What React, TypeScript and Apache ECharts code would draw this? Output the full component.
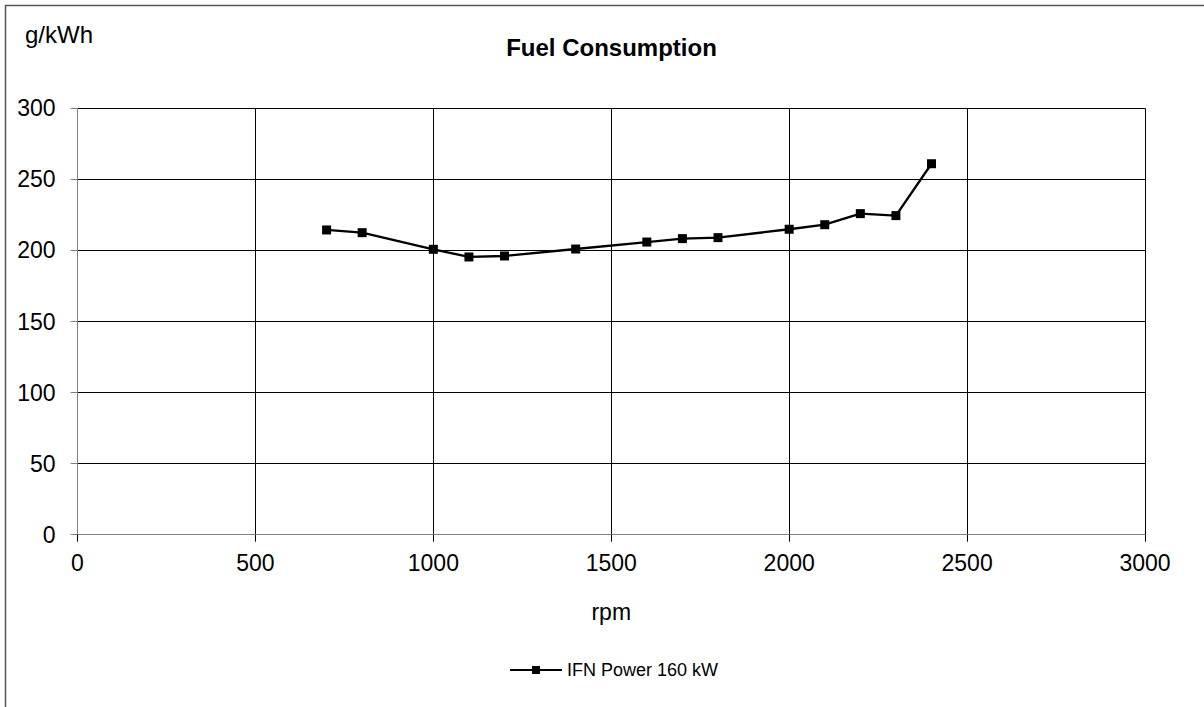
import React, { useEffect, useRef } from "react";
import * as echarts from "echarts";

const rpm = [700, 800, 1000, 1100, 1200, 1400, 1600, 1700, 1800, 2000, 2100, 2200, 2300, 2400];
const consumption = [214.4, 212.5, 200.8, 195.4, 196.1, 201, 205.9, 208.3, 209, 214.9, 218.1, 225.9, 224.5, 261];
const seriesName = "IFN Power 160 kW";
const titleText = "Fuel Consumption";
const yUnit = "g/kWh";
const xName = "rpm";

export default function App() {
  const ref = useRef<HTMLDivElement>(null);
  useEffect(() => {
    document.body.style.margin = "0";
    const chart = echarts.init(ref.current!, null, { renderer: "svg" });
    const font = "Arial, 'Liberation Sans', sans-serif";
    chart.setOption({
      animation: false,
      backgroundColor: "#ffffff",
      textStyle: { fontFamily: font },
      grid: { left: 77.5, right: 59, top: 108.3, bottom: 172.3, containLabel: false },
      xAxis: {
        type: "value",
        min: 0,
        max: 3000,
        interval: 500,
        name: xName,
        nameLocation: "middle",
        nameGap: 66,
        nameTextStyle: { fontSize: 23, color: "#000", fontFamily: font },
        axisLine: { show: true, lineStyle: { color: "#808080", width: 1 } },
        axisTick: { show: true, length: 7, lineStyle: { color: "#000" } },
        axisLabel: {
          fontSize: 23,
          color: "#000",
          margin: 17,
          fontFamily: font,
          formatter: (v: number) => String(v),
        },
        splitLine: { show: true, lineStyle: { color: "#000", width: 1 } },
      },
      yAxis: {
        type: "value",
        min: 0,
        max: 300,
        interval: 50,
        axisLine: { show: true, lineStyle: { color: "#808080", width: 1 } },
        axisTick: { show: true, length: 7, lineStyle: { color: "#808080" } },
        axisLabel: { fontSize: 23, color: "#000", margin: 22, fontFamily: font },
        splitLine: { show: true, lineStyle: { color: "#000", width: 1 } },
      },
      legend: {
        top: 656,
        left: 504,
        itemWidth: 52,
        itemHeight: 10,
        textStyle: { fontSize: 18, color: "#000", fontFamily: font },
        data: [seriesName],
      },
      graphic: [
        {
          type: "rect",
          shape: { x: 5.5, y: 5.5, width: 1400, height: 900 },
          style: { fill: "none", stroke: "#555", lineWidth: 1.5 },
          silent: true,
        },
        {
          type: "text",
          x: 25,
          y: 34.5,
          style: {
            text: yUnit,
            fontSize: 24,
            fill: "#000",
            fontFamily: font,
            verticalAlign: "middle",
          },
        },
        {
          type: "text",
          x: 611.5,
          y: 47.5,
          style: {
            text: titleText,
            fontSize: 24,
            fontWeight: "bold",
            fill: "#000",
            fontFamily: font,
            align: "center",
            verticalAlign: "middle",
          },
        },
      ],
      series: [
        {
          name: seriesName,
          type: "line",
          data: rpm.map((r, i) => [r, consumption[i]]),
          symbol: "rect",
          symbolSize: 9,
          lineStyle: { color: "#000", width: 2.3 },
          itemStyle: { color: "#000" },
        },
      ],
    });
    return () => chart.dispose();
  }, []);
  return <div ref={ref} style={{ width: 1204, height: 707 }} />;
}
